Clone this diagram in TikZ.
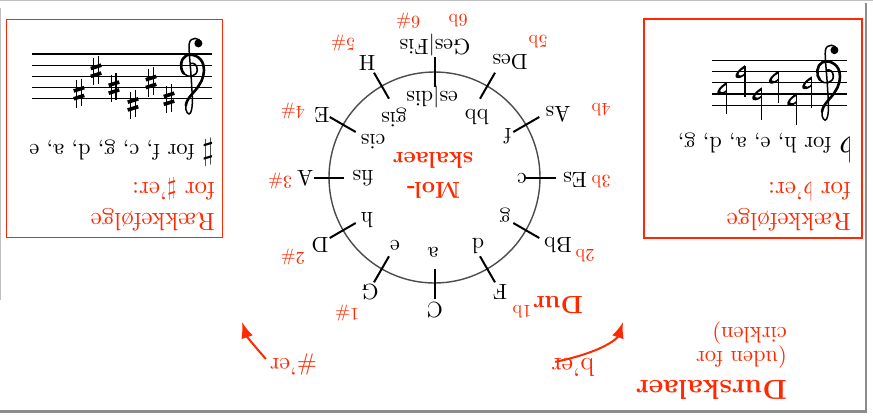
\RequirePackage{fix-cm}
\documentclass[tikz,border=0pt]{standalone}
\usepackage{fontspec}
\setmainfont{lmroman10-regular.otf}[BoldFont=lmroman10-bold.otf, ItalicFont=lmroman10-italic.otf]
\usetikzlibrary{arrows.meta,calc}
\definecolor{myred}{RGB}{255,40,0}
\definecolor{circgray}{RGB}{75,75,75}
\tikzset{
  lab/.style={rotate=180, inner sep=0pt, font=\fontsize{22}{26}\selectfont},
  num/.style={rotate=180, inner sep=0pt, text=myred, font=\fontsize{18}{21}\selectfont},
  boldred/.style={rotate=180, inner sep=0pt, text=myred, font=\fontsize{23}{27}\selectfont\bfseries},
  redtxt/.style={rotate=180, inner sep=0pt, text=myred, anchor=base west, font=\fontsize{25}{30}\selectfont},
  bodytxt/.style={rotate=180, inner sep=0pt, anchor=base west, font=\fontsize{22.5}{27}\selectfont},
  box/.style={draw=myred, line width=1.6pt, inner sep=0pt},
  tickline/.style={line width=2pt},
  staffline/.style={line width=1.1pt},
  redarrow/.style={draw=myred, line width=2pt, -{Latex[length=16pt,width=12pt]}},
  gclef/.pic={
    \draw[line width=1.5pt, line cap=round] (0.3,-0.95) .. controls (0.3,-1.5) and (1.25,-1.6) .. (1.32,-0.9)
      .. controls (1.38,-0.3) and (1.2,1.0) .. (1.12,2.5)
      .. controls (1.05,3.7) and (0.95,4.7) .. (1.2,5.25)
      .. controls (1.35,5.55) and (1.7,5.15) .. (1.62,4.6);
    \draw[line width=2.6pt, line cap=round] (1.62,4.6)
      .. controls (1.55,3.9) and (0.8,3.4) .. (0.45,2.8)
      .. controls (0.1,2.3) and (-0.1,1.6) .. (0.05,1.0)
      .. controls (0.25,0.2) and (1.1,-0.1) .. (1.6,0.15)
      .. controls (2.1,0.4) and (2.2,1.3) .. (1.8,1.75);
    \draw[line width=1.6pt, line cap=round] (1.8,1.75)
      .. controls (1.4,2.2) and (0.6,2.0) .. (0.6,1.4)
      .. controls (0.6,0.95) and (0.95,0.75) .. (1.2,0.85);
    \fill (0.5,-0.95) circle[radius=0.36];
  },
  sharpsym/.pic={
    \draw[line width=1.4pt] (-0.2,-1.3) -- (-0.2,1.15) (0.2,-1.15) -- (0.2,1.3);
    \draw[line width=3.6pt] (-0.47,-0.5) -- (0.47,-0.2) (-0.47,0.2) -- (0.47,0.5);
  },
  flatsym/.pic={
    \draw[line width=1.3pt] (0,-0.55) -- (0,2.3);
    \fill (0,0.3) .. controls (0.8,0.95) and (1.45,0.35) .. (0,-0.6) -- (0,-0.35) .. controls (1.0,0.2) and (0.55,0.65) .. (0,0.1) -- cycle;
  }
}
\begin{document}
\begin{tikzpicture}[x=1pt,y=-1pt]
\useasboundingbox (0,0) rectangle (873,418);

% frame
\draw[black!25, line width=1.2pt] (0,0.8) -- (873,0.8);
\draw[black!25, line width=1.2pt] (0.8,8) -- (0.8,300);
\draw[black!45, line width=2.6pt] (0,411.5) -- (867,411.5);
\draw[black!45, line width=2pt] (866,3) -- (866,412);

% boxes
\node (lbox) [box, minimum width=216pt, minimum height=218pt] at (114.5,128.5) {};
\node (rbox) [box, minimum width=218pt, minimum height=219pt] at (753,128.5) {};

% left staff (sharps)
\begin{scope}[shift={(204,54)}, x={(-11.2pt,0pt)}, y={(0pt,-11.2pt)}]
  \foreach \l in {0,...,4} \draw[staffline] (-0.75,\l) -- (15.35,\l);
  \pic at (0,0) {gclef};
  \foreach \px/\py in {3.125/4, 4.73/2.5, 6.34/4.5, 8.04/3, 9.64/1.5, 11.16/3.5}
    \pic at (\px,\py) {sharpsym};
\end{scope}

% right staff (flats)
\begin{scope}[shift={(840,60.7)}, x={(-11.1pt,0pt)}, y={(0pt,-11.1pt)}]
  \foreach \l in {0,...,4} \draw[staffline] (-0.63,\l) -- (11.53,\l);
  \pic at (0,0) {gclef};
  \foreach \px/\py in {2.55/2, 3.9/3.5, 5.55/1.5, 7.05/3, 8.56/1, 10.2/2.5}
    \pic at (\px,\py) {flatsym};
\end{scope}

% box texts
\node (lh1) [redtxt] at (215,213) {Rækkefølge};
\node (lh2) [redtxt] at (215,182) {for $\sharp$'er:};
\node (ltx) [bodytxt] at (214,144) {{\fontsize{31}{31}\selectfont$\sharp$}\ for f, c, g, d, a, e};
\node (rh1) [redtxt] at (851,213) {Rækkefølge};
\node (rh2) [redtxt] at (851,182) {for $\flat$'er:};
\node (rtx) [bodytxt] at (852,137) {{\fontsize{34}{34}\selectfont$\flat$}\ for h, e, a, d, g,};

% circle
\node (circ) [circle, draw=circgray, line width=1.4pt, minimum size=211pt, inner sep=0pt] at (434.5,177.5) {};
\foreach \a in {0,30,...,330}
  \draw[tickline] ($(circ.center)+(\a:91)$) -- ($(circ.center)+(\a:121)$);

% major keys (outside)
\node (kC) [lab] at (435,310) {C};
\node (kG) [lab] at (370,292) {G};
\node (kD) [lab] at (320,245) {D};
\node (kA) [lab] at (305,178) {A};
\node (kE) [lab] at (322,115) {E};
\node (kH) [lab] at (367,63) {H};
\node (kGes) [lab] at (435,45) {Ges|Fis};
\node (kDes) [lab] at (510,62) {Des};
\node (kAs) [lab] at (558,114) {As};
\node (kEs) [lab] at (575,180) {Es};
\node (kBb) [lab] at (558,245) {Bb};
\node (kF) [lab] at (500,292) {F};

% minor keys (inside)
\node (ma) [lab] at (433,252) {a};
\node (me) [lab] at (395,245) {e};
\node (mh) [lab] at (367,220) {h};
\node (mfis) [lab] at (363,178) {fis};
\node (mcis) [lab] at (373,142) {cis};
\node (mgis) [lab] at (394,117) {gis};
\node (mes) [lab] at (432,97) {es|dis};
\node (mbb) [lab] at (477,117) {bb};
\node (mf) [lab] at (508,136) {f};
\node (mc) [lab] at (522,178) {c};
\node (mg) [lab] at (505,215) {g};
\node (md) [lab] at (478,246) {d};

% numbers
\node (n1s) [num] at (347,313) {1\#};
\node (n2s) [num] at (293,257) {2\#};
\node (n3s) [num] at (280,181) {3\#};
\node (n4s) [num] at (293,111) {4\#};
\node (n5s) [num] at (343,43) {5\#};
\node (n6s) [num] at (408,21) {6\#};
\node (n6b) [num] at (458,21) {6b};
\node (n5b) [num] at (538,42) {5b};
\node (n4b) [num] at (601,110) {4b};
\node (n3b) [num] at (601,182) {3b};
\node (n2b) [num] at (585,256) {2b};
\node (n1b) [num] at (522,312) {1b};

% centre and Dur labels
\node (mol) [boldred] at (433,190) {Mol-};
\node (skal) [boldred] at (433,160) {skalaer};
\node (dur) [boldred, font=\fontsize{25}{30}\selectfont\bfseries] at (558,305) {Dur};

% bottom texts
\node (lsh) [redtxt, font=\fontsize{24}{28}\selectfont] at (317,358) {\#'er};
\node (lfl) [redtxt, font=\fontsize{26}{30}\selectfont] at (595,358) {b'er};
\node (dk1) [redtxt, font=\fontsize{27.5}{32}\selectfont\bfseries] at (787,380) {Durskalaer};
\node (dk2) [bodytxt, text=myred] at (787,351) {(uden for};
\node (dk3) [bodytxt, text=myred] at (787,327) {cirklen)};

% arrows
\coordinate (ltip) at (242,322);
\coordinate (rtip) at (623,322);
\draw[redarrow] ($(lsh.east)+(-4,-5)$) .. controls (258,350) and (247,337) .. (ltip);
\draw[redarrow] ($(lfl.east)+(4,-5)$) .. controls (607,351) and (618,337) .. (rtip);
\end{tikzpicture}
\end{document}
